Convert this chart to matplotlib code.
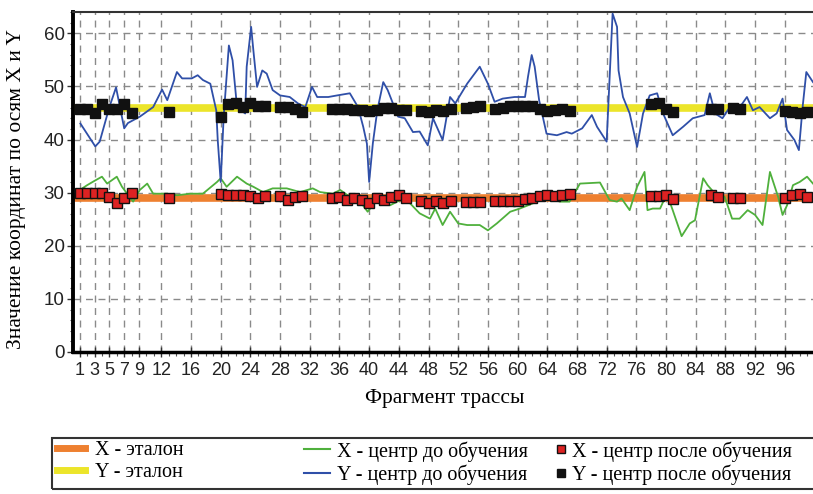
import numpy as np
import matplotlib
matplotlib.use("Agg")
import matplotlib.pyplot as plt
from matplotlib import font_manager
from matplotlib.lines import Line2D
from matplotlib.patches import Rectangle
from matplotlib.ticker import MultipleLocator, FixedLocator, FixedFormatter

## DADOS ##
x_etalon = 29.0
y_etalon = 46.0

# Y - центр до обучения (синяя линия)
frag_y_before = [1.1, 3.1, 3.7, 5.0, 5.9, 7.0, 7.5, 9.1, 10.9, 12.1, 12.8, 14.1, 14.8, 16.1, 16.9,
                 17.6, 18.6, 19.4, 19.6, 20.0, 20.4, 21.1, 21.6, 22.2, 23.3, 23.5, 24.1, 24.4, 24.9,
                 25.6, 26.2, 27.0, 28.0, 29.3, 30.4, 31.4, 32.3, 33.0, 34.5, 35.7, 37.4, 38.5, 39.2,
                 39.7, 40.0, 40.5, 41.1, 41.9, 42.5, 43.9, 44.8, 45.9, 46.8, 47.9, 48.6, 49.9, 50.9,
                 51.6, 53.2, 54.9, 56.0, 56.9, 58.0, 59.6, 61.0, 61.4, 61.9, 62.3, 62.9, 63.9, 65.3,
                 66.6, 67.3, 68.7, 70.0, 70.7, 72.0, 72.3, 72.8, 73.4, 73.6, 74.2, 75.1, 76.1, 76.9,
                 77.8, 78.8, 79.6, 80.9, 82.3, 83.6, 85.2, 85.9, 86.6, 87.6, 88.6, 89.5, 90.9, 91.7,
                 92.6, 94.0, 94.9, 95.7, 96.3, 97.3, 97.9, 98.4, 98.9, 99.8]
y_before = [43.0, 38.7, 39.6, 46.1, 49.8, 42.1, 43.1, 44.3, 46.1, 49.4, 47.4, 52.7, 51.5, 51.5, 52.1,
            51.2, 50.5, 45.5, 39.9, 32.0, 44.3, 57.7, 54.9, 46.1, 44.9, 53.7, 61.2, 56.8, 49.9,
            53.0, 52.4, 49.3, 48.3, 48.0, 46.8, 46.1, 49.9, 48.0, 48.0, 48.3, 48.7, 46.1, 42.4,
            39.2, 32.0, 39.3, 45.5, 50.8, 49.3, 44.3, 44.0, 41.4, 41.5, 38.9, 44.0, 39.9, 48.0,
            46.8, 50.5, 53.7, 50.5, 47.1, 47.7, 48.0, 48.0, 51.8, 55.9, 53.7, 47.4, 41.1, 40.8,
            41.4, 41.1, 42.1, 44.6, 42.4, 39.6, 48.7, 63.7, 61.2, 53.0, 48.0, 44.9, 38.6, 44.9,
            48.3, 48.7, 44.9, 40.8, 42.4, 44.0, 44.6, 48.7, 44.9, 44.0, 46.1, 45.2, 48.0, 45.5,
            46.1, 44.0, 44.9, 47.7, 41.8, 39.9, 38.0, 46.1, 52.7, 50.8]

# X - центр до обучения (зелёная линия)
frag_x_before = [0.6, 2.0, 3.1, 4.0, 4.7, 6.0, 6.7, 8.2, 9.1, 10.1, 10.9, 12.8, 14.1, 15.9, 17.6,
                 19.5, 20.0, 20.8, 22.2, 23.5, 24.4, 25.7, 27.0, 28.9, 30.7, 32.4, 33.4, 35.1, 36.1,
                 37.4, 38.8, 39.8, 41.0, 41.9, 42.8, 44.2, 45.5, 46.8, 48.2, 48.9, 49.9, 50.9, 52.0,
                 53.2, 54.9, 56.0, 57.2, 59.0, 60.3, 62.1, 63.9, 65.7, 67.0, 68.4, 71.1, 72.4, 73.4,
                 74.0, 75.1, 76.1, 77.1, 77.5, 78.2, 79.2, 80.1, 80.9, 82.1, 83.2, 83.9, 85.0, 85.6,
                 86.6, 87.9, 88.9, 89.9, 91.0, 92.0, 93.0, 94.0, 95.1, 95.7, 96.3, 97.1, 98.0, 99.0, 99.8]
x_before = [30.1, 31.4, 32.3, 33.0, 31.7, 33.0, 31.1, 28.3, 30.5, 31.7, 29.8, 29.8, 29.5, 29.8, 29.8,
            32.0, 32.7, 31.1, 33.0, 31.7, 31.1, 30.1, 30.8, 30.8, 30.1, 30.8, 30.1, 29.8, 30.5,
            29.2, 28.3, 26.4, 28.6, 28.3, 27.6, 28.6, 28.0, 26.1, 25.1, 27.0, 23.9, 26.4, 24.2,
            23.9, 23.9, 22.9, 24.2, 26.4, 27.0, 28.0, 29.2, 28.3, 28.3, 31.7, 31.9, 28.6, 28.3,
            28.9, 26.7, 31.1, 33.9, 26.7, 27.0, 27.0, 29.8, 26.7, 21.8, 24.2, 24.8, 32.7, 31.4,
            29.8, 29.2, 25.1, 25.1, 26.7, 25.8, 23.9, 33.9, 29.2, 25.8, 27.6, 31.4, 32.0, 33.0, 31.7]

# центр после обучения (квадраты)
frag_after = [1, 2, 3, 4, 5, 6, 7, 8, 13, 20, 21, 22, 23, 24, 25, 26, 28, 29, 30, 31,
              35, 36, 37, 38, 39, 40, 41, 42, 43, 44, 45, 47, 48, 49, 50, 51, 53, 54, 55,
              57, 58, 59, 60, 61, 62, 63, 64, 65, 66, 67, 78, 79, 80, 81, 86, 87, 89, 90,
              96, 97, 98, 99]
x_after = [30.0, 30.0, 30.0, 30.0, 29.1, 28.0, 29.0, 30.0, 29.0, 29.8, 29.5, 29.6, 29.5, 29.3,
           29.0, 29.3, 29.3, 28.7, 29.2, 29.4, 29.0, 29.2, 28.7, 29.0, 28.7, 28.1, 29.0, 28.7,
           29.2, 29.5, 29.0, 28.4, 28.1, 28.4, 28.1, 28.4, 28.2, 28.3, 28.3, 28.4, 28.5, 28.5,
           28.5, 28.8, 29.0, 29.4, 29.5, 29.4, 29.5, 29.7, 29.4, 29.4, 29.6, 28.8, 29.6, 29.2,
           29.0, 29.0, 29.0, 29.6, 29.8, 29.1]
y_after = [45.7, 45.7, 44.9, 46.6, 45.7, 45.7, 46.6, 44.9, 45.1, 44.3, 46.6, 46.8, 46.2, 46.8,
           46.3, 46.4, 46.2, 46.2, 45.7, 45.1, 45.8, 45.8, 45.7, 45.6, 45.5, 45.3, 45.5, 46.0,
           45.9, 45.6, 45.5, 45.4, 45.2, 45.5, 45.4, 45.8, 46.0, 46.1, 46.3, 45.7, 46.0, 46.3,
           46.3, 46.3, 46.4, 45.8, 45.3, 45.5, 45.7, 45.3, 46.6, 46.8, 45.7, 45.1, 45.7, 45.7,
           45.9, 45.8, 45.3, 45.1, 44.9, 45.2]

x_ticks = [1, 3, 5, 7, 9, 12, 16, 20, 24, 28, 32, 36, 40, 44, 48, 52, 56, 60, 64, 68,
           72, 76, 80, 84, 88, 92, 96]

## FONTES ##
nomes = {f.name for f in font_manager.fontManager.ttflist}
fonte_eixo = "Liberation Sans Narrow" if "Liberation Sans Narrow" in nomes else "Liberation Sans"
fonte_texto = "Liberation Serif"

## FIGURA ##
fig = plt.figure(figsize=(8.13, 4.94), dpi=100)
ax = fig.add_axes([73/813, 1 - 352/494, 1 - 73/813, 340/494])

c_orange = "#ee8030"
c_yellow = "#ece52a"
c_green = "#4fb03c"
c_blue = "#2f4fa8"
c_red = "#dd2222"

ax.axhline(x_etalon, color=c_orange, lw=5.5, zorder=2, solid_capstyle="butt")
ax.axhline(y_etalon, color=c_yellow, lw=5.5, zorder=2, solid_capstyle="butt")
ax.plot(frag_x_before, x_before, color=c_green, lw=1.3, zorder=3)
ax.plot(frag_y_before, y_before, color=c_blue, lw=1.3, zorder=3)
ax.plot(frag_after, x_after, ls="none", marker="s", ms=6.5, mfc=c_red, mec="#111111",
        mew=1.0, zorder=4)
ax.plot(frag_after, y_after, ls="none", marker="s", ms=7.5, mfc="#111111", mec="#111111",
        mew=1.0, zorder=4)

ax.set_xlim(0.1, 99.8)
ax.set_ylim(0, 64)

ax.xaxis.set_major_locator(FixedLocator(x_ticks))
ax.xaxis.set_major_formatter(FixedFormatter([str(t) for t in x_ticks]))
ax.xaxis.set_minor_locator(MultipleLocator(1))
ax.yaxis.set_major_locator(MultipleLocator(10))
ax.yaxis.set_minor_locator(MultipleLocator(2))

ax.grid(True, which="major", color="#8a8a8a", lw=1.0, ls=(0, (5, 4)), zorder=1)
ax.set_axisbelow(True)

ax.tick_params(axis="x", which="major", direction="inout", length=7, width=1, color="#333333",
               labelsize=13, labelcolor="#222222", pad=4)
ax.tick_params(axis="x", which="minor", direction="out", length=3, width=0.8, color="#555555")
ax.tick_params(axis="y", which="major", direction="out", length=4, width=1, color="#333333",
               labelsize=13.5, labelcolor="#222222", pad=2)
ax.tick_params(axis="y", which="minor", direction="out", length=2, width=0.8, color="#555555")
for lab in ax.get_xticklabels() + ax.get_yticklabels():
    lab.set_fontfamily(fonte_eixo)

ax.spines["left"].set_linewidth(2.8)
ax.spines["left"].set_color("black")
ax.spines["bottom"].set_linewidth(2.5)
ax.spines["bottom"].set_color("black")
ax.spines["top"].set_linewidth(1.5)
ax.spines["top"].set_color("#333333")
ax.spines["right"].set_visible(False)

ax.set_xlabel("Фрагмент трассы", fontfamily=fonte_texto, fontsize=15.5)
ax.xaxis.set_label_coords(0.503, -0.108)
ax.set_ylabel("Значение координат по осям X и Y", fontfamily=fonte_texto, fontsize=15.5)
ax.yaxis.set_label_coords(-0.064, 0.48)

## LEGENDA (moldura + 3 colunas) ##
fig.patches.append(Rectangle((52/813, 1 - 489/494), 790/813, 51/494, transform=fig.transFigure,
                             fill=False, ec="#333333", lw=1.5, zorder=5))

handles = [
    Line2D([], [], color=c_orange, lw=5),
    Line2D([], [], color=c_yellow, lw=5),
    Line2D([], [], color=c_green, lw=1.5),
    Line2D([], [], color=c_blue, lw=1.5),
    Line2D([], [], ls="none", marker="s", ms=6, mfc=c_red, mec="#111111"),
    Line2D([], [], ls="none", marker="s", ms=6, mfc="#111111", mec="#111111"),
]
labels = ["X - эталон", "Y - эталон", "X - центр до обучения", "Y - центр до обучения",
          "X - центр после обучения", "Y - центр после обучения"]
col_x = [57, 304, 553]
col_hl = [1.4, 1.3, 0.8]
col_pad = [0.5, 0.35, 0.15]
for k in range(3):
    fig.legend(handles[2*k:2*k+2], labels[2*k:2*k+2], loc="upper left",
               bbox_to_anchor=(col_x[k]/813, 1 - 441/494), frameon=False,
               borderpad=0, borderaxespad=0, prop={"family": fonte_texto, "size": 14.5},
               handlelength=col_hl[k], handletextpad=col_pad[k], labelspacing=0.15)

fig.savefig("out.png", dpi=100)
